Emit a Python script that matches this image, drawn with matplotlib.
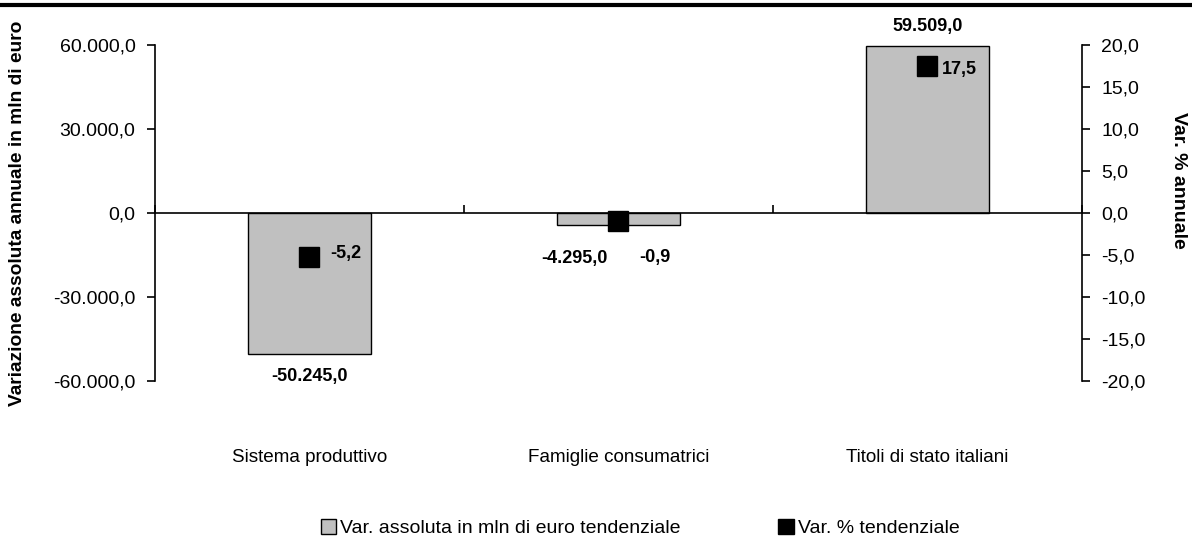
import matplotlib.pyplot as plt
from matplotlib.lines import Line2D
from matplotlib.patches import Patch

plt.rcParams['font.family'] = ['Liberation Sans Narrow', 'Liberation Sans', 'DejaVu Sans']

categories = ['Sistema produttivo', 'Famiglie consumatrici', 'Titoli di stato italiani']
abs_var = [-50245.0, -4295.0, 59509.0]
pct_var = [-5.2, -0.9, 17.5]
left_ticks = [-60000, -30000, 0, 30000, 60000]
right_ticks = [-20, -15, -10, -5, 0, 5, 10, 15, 20]


def it_fmt(v, dec=1):
    s = f"{v:,.{dec}f}"
    return s.replace(',', 'X').replace('.', ',').replace('X', '.')


fig = plt.figure(figsize=(11.92, 5.41), dpi=100)
ax = fig.add_axes([0.130, 0.2957, 0.7777, 0.6211])
ax2 = ax.twinx()

x = list(range(len(categories)))
ax.bar(x, abs_var, width=0.4, color='#c0c0c0', edgecolor='black', linewidth=1, zorder=2)
ax.set_xlim(-0.5, 2.5)
ax.set_ylim(-60000, 60000)
ax.set_yticks(left_ticks)
ax.set_yticklabels([it_fmt(t) for t in left_ticks], fontsize=14)
ax2.set_ylim(-20, 20)
ax2.set_yticks(right_ticks)
ax2.set_yticklabels([it_fmt(t) for t in right_ticks], fontsize=14)

# zero line works as category axis
ax.spines['bottom'].set_position(('data', 0))
ax.spines['bottom'].set_linewidth(1.2)
ax.set_xticks([-0.5, 0.5, 1.5, 2.5])
ax.set_xticklabels([])
ax.tick_params(axis='x', direction='in', length=6, width=1.2)
for a in (ax, ax2):
    a.spines['top'].set_visible(False)
ax2.spines['bottom'].set_visible(False)
ax.spines['left'].set_linewidth(1.2)
ax2.spines['right'].set_linewidth(1.2)
ax2.spines['left'].set_visible(False)
ax.spines['right'].set_visible(False)
ax.tick_params(axis='y', length=6, width=1.2, pad=8)
ax2.tick_params(axis='y', length=6, width=1.2, pad=8)

ax2.plot(x, pct_var, linestyle='none', marker='s', markersize=14.5, color='black', zorder=3)

# category labels below the plot
for i, c in enumerate(categories):
    ax.text(i, -0.229, c, transform=ax.get_xaxis_transform(), ha='center', va='center', fontsize=13.6)

# value labels
bar_offsets = [(0, -23), (-44, -33), (0, 20)]
for i, v in enumerate(abs_var):
    ax.annotate(it_fmt(v), (i, v), xytext=bar_offsets[i], textcoords='offset pixels',
                ha='center', va='center', fontsize=13, fontweight='bold')

pct_offsets = [(36, 3), (36, -37), (32, -3)]
for i, v in enumerate(pct_var):
    ax2.annotate(it_fmt(v), (i, v), xytext=pct_offsets[i], textcoords='offset pixels',
                 ha='center', va='center', fontsize=13, fontweight='bold')

fig.text(0.015, 0.6063, 'Variazione assoluta annuale in mln di euro', rotation=90,
         ha='center', va='center', fontsize=13.75, fontweight='bold')
fig.text(0.989, 0.667, 'Var. % annuale', rotation=-90,
         ha='center', va='center', fontsize=14, fontweight='bold')

handles = [Patch(facecolor='#c0c0c0', edgecolor='black'), Patch(facecolor='black', edgecolor='black')]
fig.legend(handles, ['Var. assoluta in mln di euro tendenziale', 'Var. % tendenziale'],
           loc='center', bbox_to_anchor=(0.537, 0.024), ncol=2, frameon=False, fontsize=14,
           handlelength=0.8, handleheight=0.8, handletextpad=0.2, columnspacing=5)

fig.add_artist(Line2D([0, 1], [0.99, 0.99], transform=fig.transFigure, color='black', linewidth=3))

fig.savefig('out.png', dpi=100)
